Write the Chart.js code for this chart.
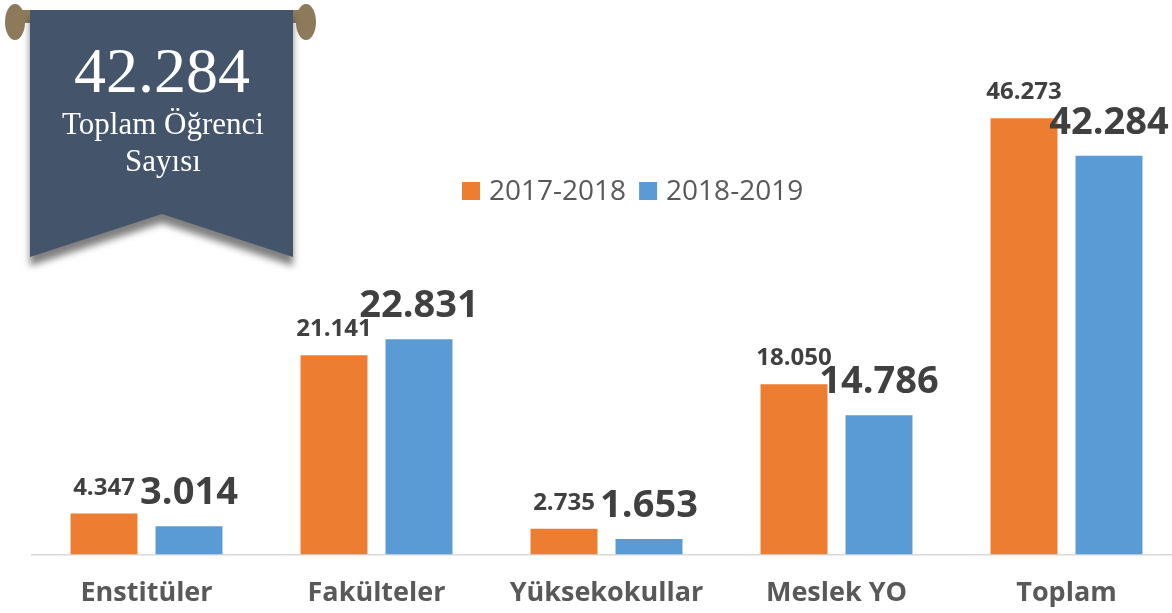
<!DOCTYPE html>
<html><head><meta charset="utf-8">
<script src="https://cdn.jsdelivr.net/npm/chart.js@4.4.0/dist/chart.umd.min.js"></script>
<style>
html,body{margin:0;padding:0;background:#fff;overflow:hidden;width:1172px;height:613px}
#wrap{position:absolute;left:0;top:0;width:1190px;height:613px}
</style></head><body>
<div id="wrap"><canvas id="c" width="1190" height="613"></canvas></div>
<script>
const categories = ['Enstitüler', 'Fakülteler', 'Yüksekokullar', 'Meslek YO', 'Toplam'];
const seriesNames = ['2017-2018', '2018-2019'];
const values2017 = [4347, 21141, 2735, 18050, 46273];
const values2018 = [3014, 22831, 1653, 14786, 42284];
const bannerLines = ['Toplam Öğrenci', 'Sayısı'];

const ORANGE = '#ED7D31', BLUE = '#5B9BD5';
function fmt(v){ return String(v).replace(/\B(?=(\d{3})+(?!\d))/g, '.'); }
const bannerValue = values2018[values2018.length - 1];

const bannerPlugin = {
  id: 'banner',
  afterDraw(chart){
    const ctx = chart.ctx;
    ctx.save();
    ctx.fillStyle = '#8C7A5B';
    ctx.fillRect(15, 10, 291, 13);
    ctx.beginPath(); ctx.ellipse(15, 22, 10, 18, 0, 0, Math.PI*2); ctx.fill();
    ctx.beginPath(); ctx.ellipse(306, 22, 10, 18, 0, 0, Math.PI*2); ctx.fill();
    ctx.shadowColor = 'rgba(0,0,0,0.5)';
    ctx.shadowBlur = 7;
    ctx.shadowOffsetY = 9;
    ctx.fillStyle = '#44546A';
    ctx.beginPath();
    ctx.moveTo(30, 10); ctx.lineTo(293, 10); ctx.lineTo(293, 257);
    ctx.lineTo(162, 214); ctx.lineTo(30, 257); ctx.closePath();
    ctx.fill();
    ctx.shadowColor = 'transparent';
    ctx.shadowBlur = 0; ctx.shadowOffsetY = 0;
    ctx.fillStyle = '#ffffff';
    ctx.textAlign = 'center';
    ctx.textBaseline = 'alphabetic';
    ctx.font = '64px "Liberation Serif"';
    ctx.fillText(fmt(bannerValue), 162, 92);
    ctx.font = '31px "Liberation Serif"';
    ctx.fillText(bannerLines[0], 163, 134);
    ctx.fillText(bannerLines[1], 163, 171);
    ctx.restore();
  }
};

const legendPlugin = {
  id: 'customLegend',
  afterDraw(chart){
    const ctx = chart.ctx;
    ctx.save();
    ctx.font = '28px "Open Sans"';
    ctx.textBaseline = 'middle';
    ctx.textAlign = 'left';
    let x = 462;
    const y = 191;
    chart.data.datasets.forEach(ds => {
      ctx.fillStyle = ds.backgroundColor;
      ctx.fillRect(x, y - 9, 18, 18);
      x += 27;
      ctx.fillStyle = '#595959';
      ctx.fillText(ds.label, x, y + 1);
      x += ctx.measureText(ds.label).width + 13;
    });
    ctx.restore();
  }
};

const labelPlugin = {
  id: 'barLabels',
  afterDatasetsDraw(chart){
    const ctx = chart.ctx;
    ctx.save();
    ctx.fillStyle = '#404040';
    ctx.textAlign = 'center';
    ctx.textBaseline = 'alphabetic';
    chart.data.datasets.forEach((ds, di) => {
      const meta = chart.getDatasetMeta(di);
      ctx.font = di === 0 ? 'bold 24px "Open Sans"' : 'bold 38px "Open Sans"';
      const off = di === 0 ? 19 : 22;
      meta.data.forEach((bar, i) => {
        ctx.fillText(fmt(ds.data[i]), bar.x, bar.y - off);
      });
    });
    ctx.restore();
  }
};

new Chart(document.getElementById('c'), {
  type: 'bar',
  data: {
    labels: categories,
    datasets: [
      { label: seriesNames[0], data: values2017, backgroundColor: ORANGE },
      { label: seriesNames[1], data: values2018, backgroundColor: BLUE }
    ]
  },
  options: {
    responsive: false,
    animation: false,
    devicePixelRatio: 1,
    layout: { padding: { left: 31.5, right: 8.5, top: 83, bottom: -20 } },
    datasets: { bar: { categoryPercentage: 0.739, barPercentage: 0.788 } },
    plugins: { legend: { display: false }, tooltip: { enabled: false } },
    scales: {
      y: { display: false, min: 0, max: 50000 },
      x: {
        grid: { display: false, drawTicks: false },
        border: { display: true, color: '#D9D9D9', width: 1.5 },
        ticks: { color: '#595959', padding: 23, font: { family: 'Open Sans', size: 27, weight: 'bold' } }
      }
    }
  },
  plugins: [labelPlugin, legendPlugin, bannerPlugin]
});
</script>
</body></html>
